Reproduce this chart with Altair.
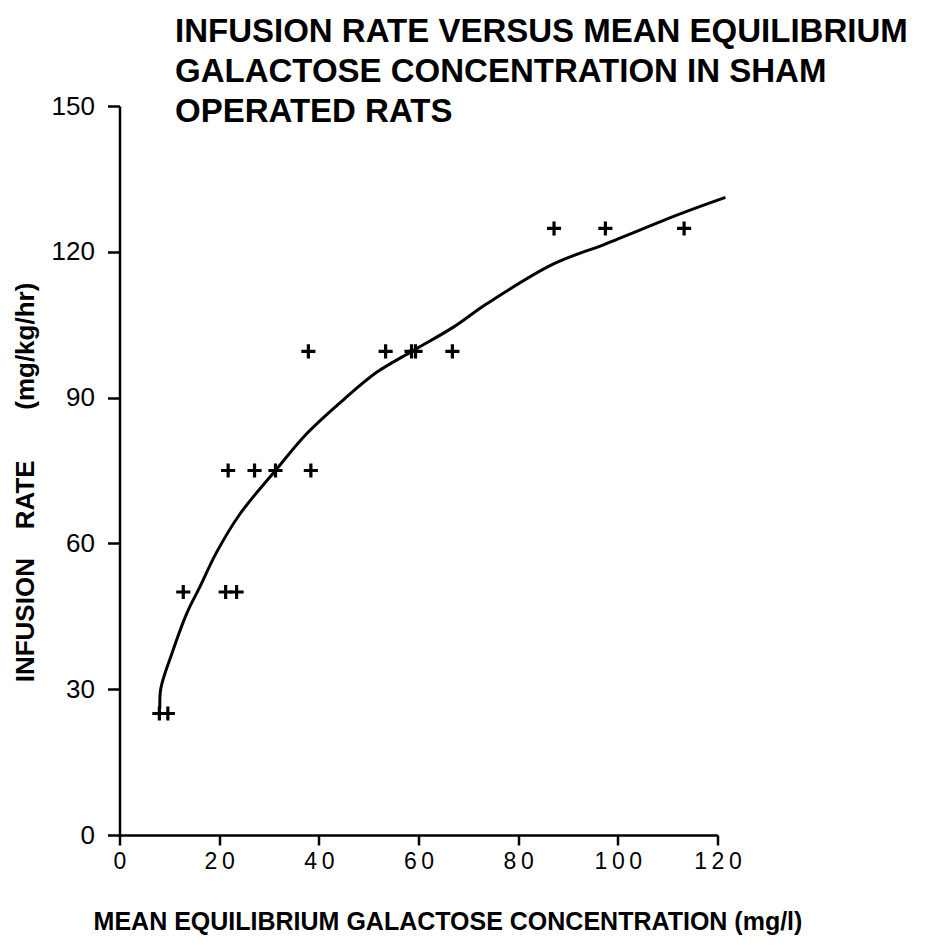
import altair as alt
import pandas as pd

# Data
pts_x = [8.0, 9.7, 12.8, 21.3, 23.5, 21.8, 27.1, 31.3, 38.4,
         37.9, 53.4, 58.6, 59.4, 66.8, 87.2, 97.5, 113.3]
pts_y = [25, 25, 50, 50, 50, 75, 75, 75, 75,
         99.5, 99.5, 99.5, 99.5, 99.5, 124.8, 124.8, 124.8]

curve_x = [8.1, 8.3, 10.5, 13.5, 16.1, 19.5, 24.2, 31.3, 37.6, 45.0,
           51.6, 59.0, 67.0, 73.7, 87.1, 97.5, 112.5, 121.6]
curve_y = [26.0, 30.2, 37.3, 45.6, 51.0, 58.2, 66.1, 75.0, 82.6, 89.6,
           95.2, 99.7, 104.5, 109.3, 117.5, 121.6, 127.8, 131.2]

x_ticks = [0, 20, 40, 60, 80, 100, 120]
y_ticks = [0, 30, 60, 90, 120, 150]

title_lines = ["INFUSION RATE VERSUS MEAN EQUILIBRIUM",
               "GALACTOSE CONCENTRATION IN SHAM",
               "OPERATED RATS"]
x_title = "MEAN EQUILIBRIUM GALACTOSE CONCENTRATION (mg/l)"
NB = "\u00a0"
y_title = "INFUSION" + NB * 4 + "RATE" + NB * 7 + "(mg/kg/hr)"

pts = pd.DataFrame({"x": pts_x, "y": pts_y})
curve = pd.DataFrame({"x": curve_x, "y": curve_y, "i": list(range(len(curve_x)))})

FONT = "Liberation Sans"
SP = "\u2009"

xscale = alt.Scale(domain=[0, 120], nice=False, zero=False)
yscale = alt.Scale(domain=[0, 150], nice=False, zero=False)

xaxis = alt.Axis(
    values=x_ticks, grid=False, title=x_title,
    labelExpr="join(split(datum.label, ''), '" + SP + "')",
    labelPadding=5, labelFlush=False,
    labelFont=FONT, labelFontSize=23, labelColor="black",
    tickSize=10,
    titleFont=FONT, titleFontSize=25, titleFontWeight="bold", titleColor="black",
    titleX=328, titleY=94, titleBaseline="alphabetic", titleAlign="center",
)
yaxis = alt.Axis(
    values=y_ticks, grid=False, title=y_title,
    labelPadding=13,
    labelFont=FONT, labelFontSize=26, labelColor="black",
    tickSize=12,
    titleFont=FONT, titleFontSize=26, titleFontWeight="bold", titleColor="black",
    titleAngle=270, titleX=-86, titleY=376, titleBaseline="alphabetic",
    titleAlign="center",
)

line = alt.Chart(curve).mark_line(
    color="black", strokeWidth=3, interpolate="catmull-rom"
).encode(
    x=alt.X("x:Q", scale=xscale, axis=xaxis),
    y=alt.Y("y:Q", scale=yscale, axis=yaxis),
    order="i:Q",
)

points = alt.Chart(pts).mark_point(
    shape="M-1,0H1M0,-1V1", filled=False, stroke="black",
    strokeWidth=3.2, size=200, opacity=1,
).encode(
    x=alt.X("x:Q", scale=xscale, axis=xaxis),
    y=alt.Y("y:Q", scale=yscale, axis=yaxis),
)

chart = alt.layer(line, points).properties(
    width=598, height=729,
    background="white",
    autosize=alt.AutoSizeParams(type="none"),
    padding={"left": 111.5, "top": 98, "right": 200, "bottom": 110},
    title=alt.TitleParams(
        text=title_lines, anchor="start", frame="group",
        font=FONT, fontSize=33, fontWeight="bold", color="black",
        lineHeight=40, baseline="top", offset=0, dx=55.5, dy=36,
    ),
).configure_view(strokeWidth=0).configure_axis(
    tickWidth=2.5, tickColor="black",
    domainColor="black", domainWidth=2.5,
)

chart.save("out.html", embed_options={"renderer": "svg", "actions": False})
